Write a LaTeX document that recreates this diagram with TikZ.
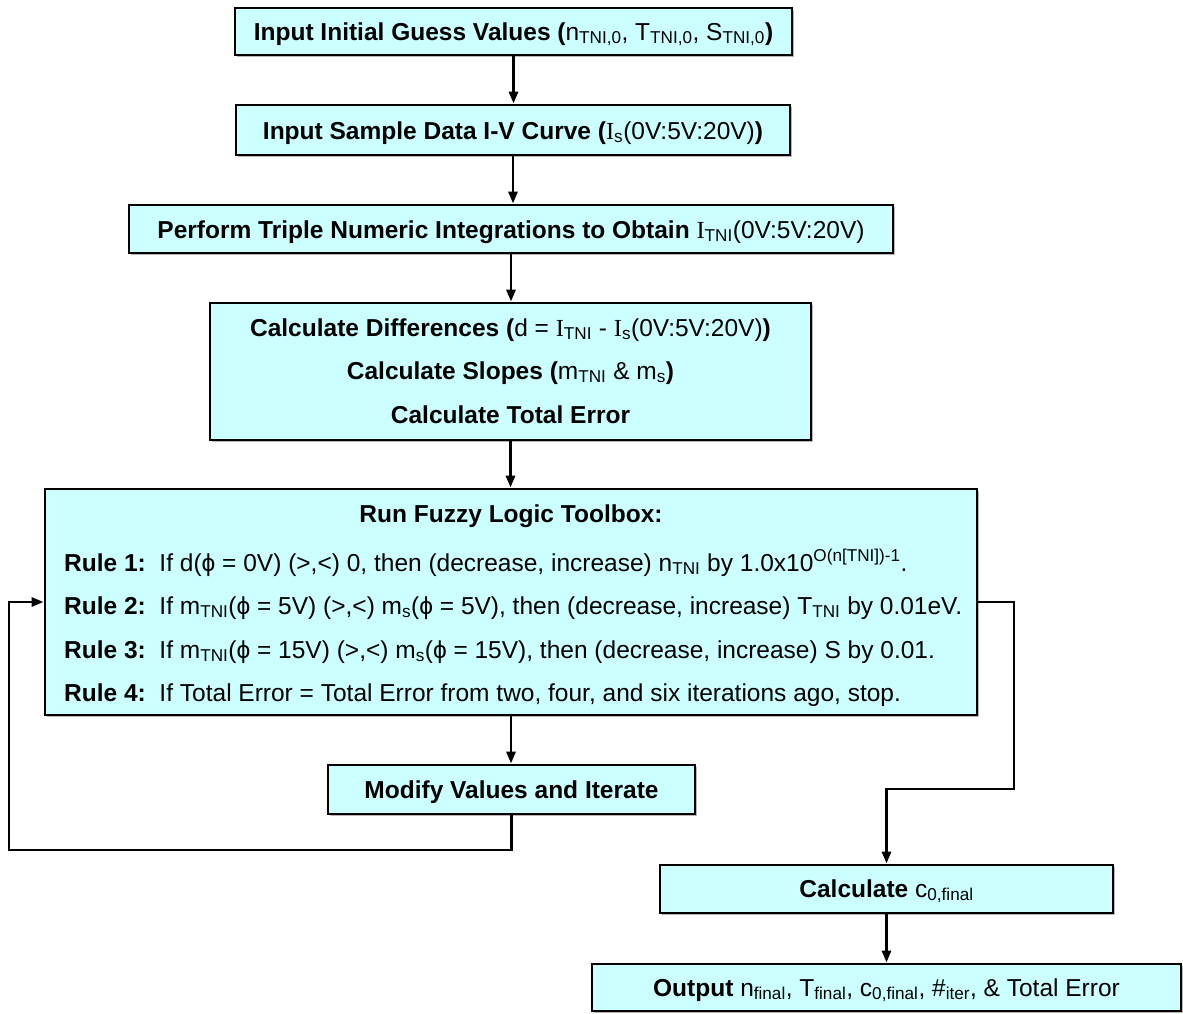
\documentclass[tikz,border=0pt]{standalone}
\usepackage{fontspec}
\setmainfont{Liberation Sans}
\newfontfamily\serifI{Liberation Serif}
\usetikzlibrary{arrows.meta,shadows}
\definecolor{boxfill}{RGB}{204,255,255}
\newcommand{\lsb}[1]{\textsubscript{#1}}
\newcommand{\sI}{{\serifI I}}
\begin{document}
\begin{tikzpicture}[x=1pt,y=-1pt,
  font=\fontsize{24.5}{29}\selectfont,
  box/.style={draw=black,line width=2.8pt,fill=boxfill,inner sep=0pt,
    drop shadow={shadow xshift=2pt,shadow yshift=-2pt,fill=black!40,opacity=.7}},
  txt/.style={inner sep=0pt,anchor=base},
  rtxt/.style={inner sep=0pt,anchor=base west},
  conn/.style={line width=2.8pt,draw=black},
  arr/.style={conn,-{Triangle[length=12pt,width=9pt]}}]
\useasboundingbox[fill=white] (0,0) rectangle (1183,1013);
% boxes
\node[box,minimum width=557pt,minimum height=47pt] (b1) at (513.5,31.5) {};
\node[box,minimum width=554pt,minimum height=50pt] (b2) at (513,130) {};
\node[box,minimum width=764pt,minimum height=48pt] (b3) at (511,229) {};
\node[box,minimum width=601pt,minimum height=137pt] (b4) at (510.5,371.5) {};
\node[box,minimum width=932pt,minimum height=226pt] (b5) at (511,602) {};
\node[box,minimum width=367pt,minimum height=49pt] (b6) at (511.5,789.5) {};
\node[box,minimum width=453pt,minimum height=48pt] (b7) at (886.5,889) {};
\node[box,minimum width=589pt,minimum height=47pt] (b8) at (886.5,987.5) {};
% texts
\node[txt] (t1) at (513.5,40) {\textbf{Input Initial Guess Values (}n\lsb{TNI,0}, T\lsb{TNI,0}, S\lsb{TNI,0}\textbf{)}};
\node[txt] (t2) at (513,139) {\textbf{Input Sample Data I-V Curve (}\sI\lsb{s}(0V:5V:20V)\textbf{)}};
\node[txt] (t3) at (511,238) {\textbf{Perform Triple Numeric Integrations to Obtain }\sI\lsb{TNI}(0V:5V:20V)};
\node[txt] (t4a) at (510.5,336) {\textbf{Calculate Differences (}d = \sI\lsb{TNI} - \sI\lsb{s}(0V:5V:20V)\textbf{)}};
\node[txt] (t4b) at (510.5,379) {\textbf{Calculate Slopes (}m\lsb{TNI} \& m\lsb{s}\textbf{)}};
\node[txt] (t4c) at (510.5,423) {\textbf{Calculate Total Error}};
\node[txt] (t5) at (511,522) {\textbf{Run Fuzzy Logic Toolbox:}};
\node[rtxt] (r1) at (64,571) {\textbf{Rule 1:}\ \ If d(ϕ = 0V) (>,<) 0, then (decrease, increase) n\lsb{TNI} by 1.0x10\textsuperscript{O(n[TNI])-1}.};
\node[rtxt] (r2) at (64,614) {\textbf{Rule 2:}\ \ If m\lsb{TNI}(ϕ = 5V) (>,<) m\lsb{s}(ϕ = 5V), then (decrease, increase) T\lsb{TNI} by 0.01eV.};
\node[rtxt] (r3) at (64,658) {\textbf{Rule 3:}\ \ If m\lsb{TNI}(ϕ = 15V) (>,<) m\lsb{s}(ϕ = 15V), then (decrease, increase) S by 0.01.};
\node[rtxt] (r4) at (64,701) {\textbf{Rule 4:}\ \ If Total Error = Total Error from two, four, and six iterations ago, stop.};
\node[txt] (t6) at (511.5,798) {\textbf{Modify Values and Iterate}};
\node[txt] (t7) at (886.5,897) {\textbf{Calculate }c\lsb{0,final}};
\node[txt] (t8) at (886.5,996) {\textbf{Output }n\lsb{final}, T\lsb{final}, c\lsb{0,final}, \#\lsb{iter}, \& Total Error};
% connectors
\draw[arr] (b1.south) -- (b1.south |- b2.north);
\draw[arr] (b2.south) -- (b2.south |- b3.north);
\draw[arr] (b3.south) -- (b3.south |- b4.north);
\draw[arr] (b4.south) -- (b4.south |- b5.north);
\draw[arr] (b5.south) -- (b5.south |- b6.north);
\coordinate (lc) at (9,850);
\draw[arr] (b6.south) |- (lc) |- (b5.west);
\coordinate (rc1) at (1014,602);
\coordinate (rc2) at (1014,789);
\draw[arr] (b5.east) -- (rc1) -- (rc2) -| (b7.north);
\draw[arr] (b7.south) -- (b7.south |- b8.north);
\end{tikzpicture}
\end{document}
